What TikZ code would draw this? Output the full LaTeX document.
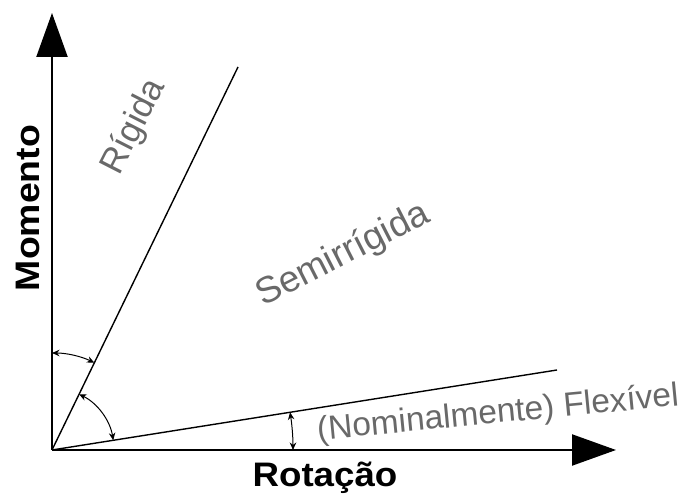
\documentclass[tikz,border=0pt]{standalone}
\usepackage{fontspec}
\setmainfont{Liberation Sans}
\usetikzlibrary{arrows.meta}
\definecolor{txtgray}{RGB}{105,105,105}
\begin{document}
\begin{tikzpicture}[x=1pt,y=1pt,
  axis/.style={line width=2.2pt,-{Triangle[length=44pt,width=31pt]}},
  conn/.style={line width=1.4pt},
  angarc/.style={line width=1pt,{Stealth[length=7.5pt,width=6.5pt]}-{Stealth[length=7.5pt,width=6.5pt]}},
  axlabel/.style={font=\fontsize{34}{34}\selectfont\bfseries,text=black,inner sep=0pt},
  typelabel/.style={text=txtgray,inner sep=0pt}]
\useasboundingbox (0,0) rectangle (680,495);
\coordinate (O) at (52,45);
\coordinate (ytip) at (52,482);
\coordinate (xtip) at (616,45);
\coordinate (rig) at (238,428);
\coordinate (flex) at (557,125);
\draw[axis] (O) -- (xtip);
\draw[axis] (O) -- (ytip);
\draw[conn] (O) -- (rig);
\draw[conn] (O) -- (flex);
\draw[angarc] ([shift={(64.1:97)}]O) arc[start angle=64.1,end angle=90,radius=97];
\draw[angarc] ([shift={(9:62)}]O) arc[start angle=9,end angle=64.1,radius=62];
\draw[angarc] ([shift={(0:241)}]O) arc[start angle=0,end angle=9,radius=241];
\node[axlabel,rotate=90,xscale=1.1] (mom) at (28,287) {Momento};
\node[axlabel,anchor=base,xscale=1.08] (rot) at (325,8) {Rotação};
\node[typelabel,font=\fontsize{35}{35}\selectfont,rotate=63] (rigl) at (134,368) {Rígida};
\node[typelabel,font=\fontsize{37}{37}\selectfont,rotate=27] (semi) at (343,240) {Semirrígida};
\node[typelabel,font=\fontsize{33.5}{33.5}\selectfont,rotate=5.5] (flexl) at (498,81) {(Nominalmente) Flexível};
\end{tikzpicture}
\end{document}
